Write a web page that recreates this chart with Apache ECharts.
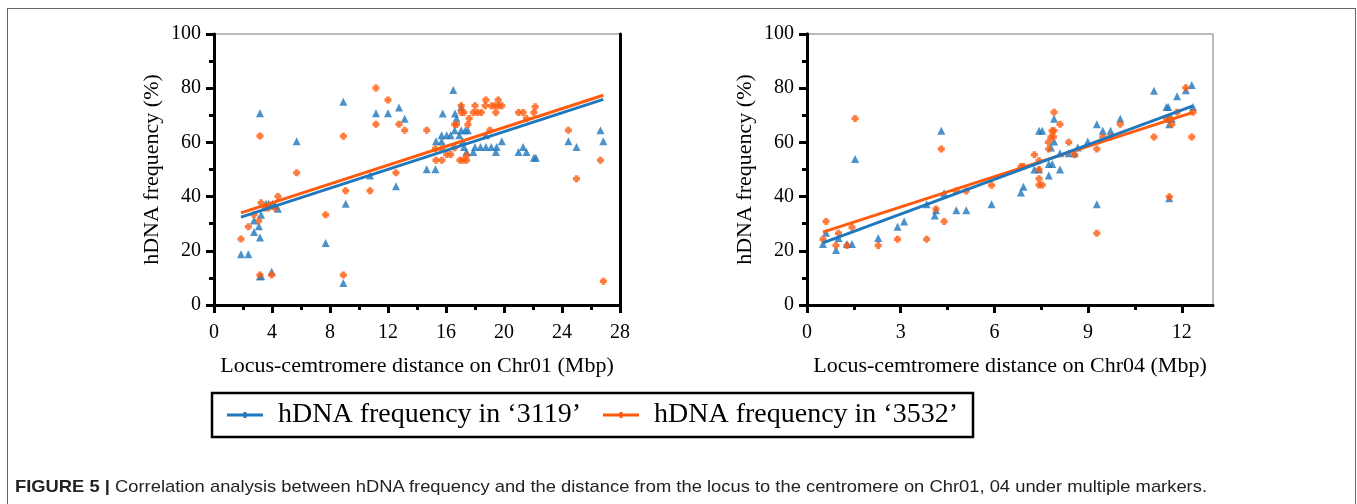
<!DOCTYPE html>
<html><head><meta charset="utf-8">
<script src="https://cdn.jsdelivr.net/npm/echarts@6/dist/echarts.min.js"></script>
<style>
html,body{margin:0;padding:0;background:#fff;}
#wrap{position:relative;width:1357px;height:504px;overflow:hidden;background:#fff;}
#chart{position:absolute;left:0;top:0;width:1357px;height:504px;}
#frame{position:absolute;left:7px;top:8px;width:1349px;height:540px;border:1.5px solid #666;border-bottom:none;box-sizing:border-box;pointer-events:none;}
#caption{position:absolute;left:15px;top:477px;font-family:'Liberation Sans',Arial,sans-serif;font-size:17px;color:#222;white-space:nowrap;transform-origin:0 0;}
#caption b{font-weight:bold;}
</style></head>
<body><div id="wrap"><div id="chart"></div><div id="frame"></div>
<div id="caption"><b>FIGURE 5 |</b> Correlation analysis between hDNA frequency and the distance from the locus to the centromere on Chr01, 04 under multiple markers.</div></div>
<script>
// ---------- DATA ----------
const seriesNames = ['hDNA frequency in ‘3119’', 'hDNA frequency in ‘3532’'];
const xNames = ['Locus-cemtromere distance on Chr01 (Mbp)', 'Locus-cemtromere distance on Chr04 (Mbp)'];
const yName = 'hDNA frequency (%)';
const xTicksChr04 = [0, 3, 6, 9, 12];
const xMinorTicksChr04 = [1.5, 4.5, 7.5, 10.5];

// Chr01, '3119'
const chr01_3119_x = [1.86,2.37,3.17,2.76,2.76,3.10,3.17,3.24,3.59,3.77,4.05,4.23,4.41,3.17,3.25,3.98,5.70,7.70,8.92,8.92,9.08,10.76,11.17,12.00,12.76,13.15,12.55,14.67,
  16.50,15.77,16.62,17.05,16.73,16.60,15.70,16.05,16.32,15.31,15.70,15.27,16.92,17.05,17.33,17.51,17.15,17.24,17.42,17.88,18.00,18.38,18.75,19.12,19.49,18.75,19.44,19.85,21.00,21.32,21.55,22.06,22.20,24.44,25.00,26.65,26.85];
const chr01_3119_y = [18.7,18.7,70.8,31.2,26.9,29.1,24.9,33.3,37.4,37.4,37.4,36.7,35.5,10.6,10.6,12.3,60.4,22.9,75.0,8.1,37.4,47.8,70.8,70.8,72.9,68.7,43.8,50.1,
  79.3,70.7,70.7,73.1,68.8,64.5,62.6,62.6,62.6,60.4,60.4,50.1,62.6,64.5,64.5,64.5,60.4,58.3,56.5,56.5,58.3,58.3,58.3,58.3,58.3,62.6,56.5,60.4,56.5,58.3,56.5,54.3,54.3,60.4,58.3,64.5,60.4];
// Chr01, '3532'
const chr01_3532_x = [1.86,2.37,2.76,3.08,3.17,3.24,3.52,3.75,4.20,4.41,3.17,3.98,5.70,7.70,8.92,8.92,9.08,10.76,11.17,11.17,12.00,12.76,13.15,12.55,14.67,
  15.27,15.72,15.31,15.72,16.05,16.32,16.60,16.60,16.73,17.05,17.05,17.24,17.51,17.60,17.88,18.16,18.43,18.00,18.70,18.75,19.44,19.14,19.37,19.63,19.85,19.60,19.03,16.96,17.19,17.42,17.42,21.00,21.32,21.55,22.06,22.15,24.44,25.00,26.65,26.85];
const chr01_3532_y = [24.4,28.9,33.3,31.1,62.4,37.7,35.8,35.8,35.8,40.0,11.1,11.1,48.8,33.3,62.3,11.1,42.2,42.2,80.1,66.7,75.6,66.7,64.5,48.8,64.5,
  57.7,57.7,53.4,53.4,55.5,55.5,58.0,66.6,66.6,73.5,71.0,71.0,66.6,68.8,71.0,71.0,71.0,73.5,73.5,75.6,71.0,73.5,73.5,73.5,73.5,75.6,64.5,53.4,53.4,53.4,55.2,71.0,71.0,68.8,71.0,73.2,64.5,46.6,53.4,8.8];
// Chr04, '3119'
const chr04_3119_x = [0.51,0.61,0.93,1.01,1.28,1.44,1.54,2.28,2.90,3.11,3.83,4.09,4.13,4.30,4.39,4.78,5.10,5.91,
  6.85,6.93,7.28,7.43,7.43,7.53,7.74,7.74,7.85,7.81,7.91,7.91,8.10,8.10,8.38,8.57,8.67,8.99,9.28,9.28,9.47,9.72,10.03,11.11,11.51,11.57,11.60,11.68,11.60,11.60,11.85,12.13,12.32,12.36];
const chr04_3119_y = [22.5,26.7,20.3,24.7,22.5,22.5,53.9,24.7,28.9,30.8,37.2,33.0,35.0,64.3,41.2,35.0,35.0,37.2,
  41.5,43.6,50.0,50.0,64.3,64.3,47.8,52.0,52.0,58.1,60.3,68.7,56.0,50.0,56.0,56.0,58.1,60.3,66.7,37.2,64.3,64.3,68.7,79.1,73.1,73.1,68.7,68.7,66.7,39.4,77.0,79.2,81.2,73.1];
// Chr04, '3532'
const chr04_3532_x = [0.51,0.61,0.93,1.01,1.28,1.44,1.54,2.28,2.90,3.83,4.13,4.30,4.39,4.78,5.10,5.91,
  6.85,6.93,7.28,7.43,7.43,7.43,7.43,7.53,7.73,7.74,7.81,7.89,7.85,7.91,7.91,8.10,8.38,8.57,9.28,9.28,9.47,9.72,10.03,11.11,11.51,11.60,11.68,11.60,11.85,12.13,12.36,12.32];
const chr04_3532_y = [24.3,30.8,22.0,26.5,22.0,28.7,68.8,22.0,24.3,24.3,35.4,57.6,30.8,42.1,42.1,44.2,
  51.1,51.1,55.4,53.2,50.0,46.6,44.3,44.3,60.1,57.6,62.0,62.0,64.3,64.3,71.1,66.7,60.1,55.4,57.6,26.5,62.0,62.0,66.7,62.0,68.9,68.9,66.7,39.9,71.1,80.2,71.1,62.0];

// Fitted regression lines (end points)
const fit_chr01_3119 = [[1.86, 32.4], [26.85, 75.9]];
const fit_chr01_3532 = [[1.86, 34.0], [26.85, 77.4]];
const fit_chr04_3119 = [[0.51, 22.9], [12.36, 73.5]];
const fit_chr04_3532 = [[0.51, 26.9], [12.36, 71.1]];

// ---------- CHART ----------
const FONT = "'Liberation Serif','Times New Roman',serif";
const BLUE = '#1f77bd', ORANGE = '#ff5b0f';
const PLUS = 'path://M2.5,0H7.5V2.5H10V7.5H7.5V10H2.5V7.5H0V2.5H2.5Z';
const LEGEND_ICON = 'path://M0,1.5H36V4.5H0Z M16.5,0H19.5V6H16.5Z';
const pairs = (xs, ys) => xs.map((x, i) => [x, ys[i]]);

const lineAx = {show: true, lineStyle: {color: '#000', width: 3}};
const tickMajor = {show: true, inside: false, length: 8, lineStyle: {color: '#000', width: 3}};
const tickMinor = {show: true, splitNumber: 2, length: 5, lineStyle: {color: '#000', width: 3}};
const lbl = {color: '#000', fontFamily: FONT, fontSize: 20};
const nameStyle = {color: '#000', fontFamily: FONT, fontSize: 22};

function yMain(gi) {
  return {type: 'value', gridIndex: gi, min: 0, max: 100, interval: 20, position: 'left',
    axisLine: lineAx, axisTick: tickMajor, minorTick: tickMinor, splitLine: {show: false},
    axisLabel: Object.assign({margin: 13}, lbl),
    name: yName, nameLocation: 'middle', nameGap: 51, nameTextStyle: nameStyle};
}
function yBorder(gi) {
  return {type: 'value', gridIndex: gi, min: 0, max: 100, position: 'right',
    axisLine: lineAx, axisTick: {show: false}, axisLabel: {show: false}, splitLine: {show: false}};
}

const option = {
  animation: false,
  backgroundColor: '#fff',
  grid: [
    {left: 214, top: 34, width: 406, height: 271, show: true, borderColor: '#777', borderWidth: 1, backgroundColor: 'transparent'},
    {left: 807, top: 34, width: 406, height: 271, show: true, borderColor: '#777', borderWidth: 1, backgroundColor: 'transparent'}
  ],
  xAxis: [
    {type: 'value', gridIndex: 0, min: 0, max: 28, interval: 4, position: 'bottom',
      axisLine: lineAx, axisTick: tickMajor, minorTick: tickMinor, splitLine: {show: false},
      axisLabel: Object.assign({margin: 18}, lbl),
      name: xNames[0], nameLocation: 'middle', nameGap: 50, nameTextStyle: nameStyle},
    {type: 'value', gridIndex: 1, min: 0, max: 13, position: 'bottom',
      axisLine: lineAx, axisTick: Object.assign({customValues: xTicksChr04}, tickMajor), splitLine: {show: false},
      axisLabel: Object.assign({margin: 18, customValues: xTicksChr04}, lbl),
      name: xNames[1], nameLocation: 'middle', nameGap: 50, nameTextStyle: nameStyle},
    {type: 'value', gridIndex: 1, min: 0, max: 13, position: 'bottom',
      axisLine: {show: false}, axisLabel: {show: false}, splitLine: {show: false},
      axisTick: {show: true, inside: false, length: 5, customValues: xMinorTicksChr04, lineStyle: {color: '#000', width: 3}}}
  ],
  yAxis: [yMain(0), yBorder(0), yMain(1), yBorder(1)],
  legend: {
    left: 212, top: 393, orient: 'horizontal',
    data: [{name: seriesNames[0], icon: LEGEND_ICON}, {name: seriesNames[1], icon: LEGEND_ICON}],
    itemWidth: 36, itemHeight: 6, itemGap: 22,
    borderColor: '#000', borderWidth: 2.5, padding: [8, 15, 8, 15],
    textStyle: {color: '#000', fontFamily: FONT, fontSize: 28, padding: [0, 0, 0, 10]}
  },
  series: [
    {type: 'scatter', name: 'c01a', xAxisIndex: 0, yAxisIndex: 0, symbol: 'triangle', symbolSize: 8, itemStyle: {color: BLUE}, data: pairs(chr01_3119_x, chr01_3119_y), silent: true},
    {type: 'scatter', name: 'c01b', xAxisIndex: 0, yAxisIndex: 0, symbol: PLUS, symbolSize: 7, itemStyle: {color: ORANGE}, data: pairs(chr01_3532_x, chr01_3532_y), silent: true},
    {type: 'line', name: seriesNames[0], xAxisIndex: 0, yAxisIndex: 0, symbol: 'none', lineStyle: {color: BLUE, width: 3}, itemStyle: {color: BLUE}, data: fit_chr01_3119, silent: true},
    {type: 'line', name: seriesNames[1], xAxisIndex: 0, yAxisIndex: 0, symbol: 'none', lineStyle: {color: ORANGE, width: 3}, itemStyle: {color: ORANGE}, data: fit_chr01_3532, silent: true},
    {type: 'scatter', name: 'c04a', xAxisIndex: 1, yAxisIndex: 2, symbol: 'triangle', symbolSize: 8, itemStyle: {color: BLUE}, data: pairs(chr04_3119_x, chr04_3119_y), silent: true},
    {type: 'scatter', name: 'c04b', xAxisIndex: 1, yAxisIndex: 2, symbol: PLUS, symbolSize: 7, itemStyle: {color: ORANGE}, data: pairs(chr04_3532_x, chr04_3532_y), silent: true},
    {type: 'line', name: seriesNames[1], xAxisIndex: 1, yAxisIndex: 2, symbol: 'none', lineStyle: {color: ORANGE, width: 3}, itemStyle: {color: ORANGE}, data: fit_chr04_3532, silent: true},
    {type: 'line', name: seriesNames[0], xAxisIndex: 1, yAxisIndex: 2, symbol: 'none', lineStyle: {color: BLUE, width: 3}, itemStyle: {color: BLUE}, data: fit_chr04_3119, silent: true}
  ]
};
const chart = echarts.init(document.getElementById('chart'), null, {renderer: 'canvas'});
chart.setOption(option);

// fit caption width to the figure's caption span
const cap = document.getElementById('caption');
const target = 1192;
const w = cap.getBoundingClientRect().width;
cap.style.transform = 'scaleX(' + (target / w) + ')';
</script>
</body></html>
